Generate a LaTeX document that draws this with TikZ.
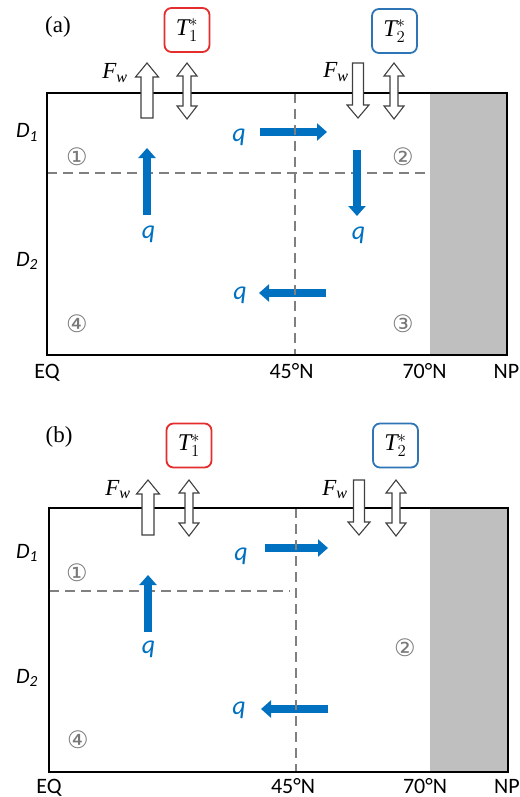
\RequirePackage{fix-cm}
\documentclass[tikz,border=0pt]{standalone}
\usepackage{fontspec}
\setmainfont{Liberation Serif}
\setsansfont{Carlito}
\newfontfamily\circfont{DejaVu Sans}
\usetikzlibrary{arrows.meta}
\definecolor{qblue}{RGB}{0,112,192}
\definecolor{landgray}{RGB}{191,191,191}
\definecolor{dashgray}{RGB}{128,128,128}
\definecolor{numgray}{RGB}{120,120,120}
\definecolor{boxred}{RGB}{228,45,45}
\definecolor{boxblue}{RGB}{46,117,182}
\newcommand\FwUp[3]{% x, tip y, bottom y
  \draw[hollow] ({#1-6},#3) -- ({#1-6},{#2+14}) -- ({#1-11.5},{#2+14}) -- (#1,#2)
    -- ({#1+11.5},{#2+14}) -- ({#1+6},{#2+14}) -- ({#1+6},#3) -- cycle;}
\newcommand\FwDown[3]{% x, top y, tip y
  \draw[hollow] ({#1-5.5},#2) -- ({#1-5.5},{#3-13}) -- ({#1-11},{#3-13}) -- (#1,#3)
    -- ({#1+11},{#3-13}) -- ({#1+5.5},{#3-13}) -- ({#1+5.5},#2) -- cycle;}
\newcommand\TwoWay[3]{% x, top tip, bottom tip
  \draw[hollow] ({#1-4},{#2+13}) -- ({#1-10},{#2+13}) -- (#1,#2) -- ({#1+10},{#2+13})
    -- ({#1+4},{#2+13}) -- ({#1+4},{#3-13}) -- ({#1+10},{#3-13}) -- (#1,#3)
    -- ({#1-10},{#3-13}) -- ({#1-4},{#3-13}) -- cycle;}
\begin{document}
\begin{tikzpicture}[x=1pt,y=-1pt,
  frame/.style={draw=black, line width=2pt},
  land/.style={fill=landgray, draw=none},
  divider/.style={draw=dashgray, line width=2.6pt, dash pattern=on 10pt off 6pt},
  hollow/.style={draw=black!75, fill=white, line width=1.1pt, line join=miter},
  qarrow/.style={draw=qblue, line width=8.5pt, -{Triangle[length=10pt,width=17pt]}},
  qlab/.style={text=qblue, font=\sffamily\itshape\fontsize{26}{26}\selectfont, inner sep=0pt},
  axlab/.style={font=\sffamily\fontsize{22}{22}\selectfont, inner sep=0pt, anchor=base},
  dlab/.style={font=\sffamily\itshape\fontsize{22}{22}\selectfont, inner sep=0pt, anchor=base},
  region/.style={text=numgray, font=\circfont\fontsize{24}{24}\selectfont, inner sep=0pt},
  panel/.style={font=\fontsize{23}{23}\selectfont, inner sep=0pt},
  fwlab/.style={font=\fontsize{23}{23}\selectfont, inner sep=0pt, anchor=base},
  tbox/.style={rounded corners=7pt, line width=1.8pt, minimum width=45pt, minimum height=44pt,
    fill=white, font=\fontsize{24}{24}\selectfont, inner sep=0pt},
]
\useasboundingbox (0,0) rectangle (519,797);

% ---------------- panel (a) ----------------
\fill[land] (430,93) rectangle (507,355);
\draw[divider] (47,173) -- (430,173);
\coordinate (a1s) at (147,215); \coordinate (a1e) at (147,148);
\coordinate (a2s) at (260,132); \coordinate (a2e) at (327,132);
\coordinate (a3s) at (357,150); \coordinate (a3e) at (357,216);
\coordinate (a4s) at (326,293); \coordinate (a4e) at (259,293);
\draw[qarrow] (a1s) -- (a1e);
\draw[qarrow] (a2s) -- (a2e);
\draw[qarrow] (a3s) -- (a3e);
\draw[qarrow] (a4s) -- (a4e);
\draw[divider] (295,93) -- (295,355);
\draw[frame] (47,93) rectangle (507,355);
\FwUp{147}{63}{118}
\TwoWay{187}{63}{119}
\FwDown{358}{63}{118}
\TwoWay{394}{63}{119}
\node[panel] (pa) at (58,27) {(a)};
\node[tbox, draw=boxred] (t1a) at (187,30) {$\mathit{T}_1^*$};
\node[tbox, draw=boxblue] (t2a) at (394.5,31) {$\mathit{T}_2^*$};
\node[fwlab] (fwa1) at (115,79) {$\mathit{F}_{\mathit{w}}$};
\node[fwlab] (fwa2) at (336,78) {$\mathit{F}_{\mathit{w}}$};
\node[dlab] (d1a) at (27,138) {D\textsubscript{1}};
\node[dlab] (d2a) at (27,266) {D\textsubscript{2}};
\node[region] (r1a) at (77,157) {①};
\node[region] (r2a) at (403,157) {②};
\node[region] (r3a) at (403,324) {③};
\node[region] (r4a) at (77,324) {④};
\node[qlab] (qa1) at (148.5,234) {q};
\node[qlab] (qa2) at (239,137) {q};
\node[qlab] (qa3) at (358.5,235) {q};
\node[qlab] (qa4) at (240,295) {q};
\node[axlab] (eqa) at (47,378) {EQ};
\node[axlab] (m45a) at (291.5,378) {45°N};
\node[axlab] (m70a) at (424.5,378) {70°N};
\node[axlab] (npa) at (506.5,378) {NP};

% ---------------- panel (b) ----------------
\begin{scope}[shift={(0,415)}]
\fill[land] (430,93) rectangle (508,357);
\draw[divider] (49,176) -- (290,176);
\coordinate (b1s) at (148,217); \coordinate (b1e) at (148,160);
\coordinate (b2s) at (265,133); \coordinate (b2e) at (328,133);
\coordinate (b4s) at (328,294); \coordinate (b4e) at (261,294);
\draw[qarrow] (b1s) -- (b1e);
\draw[qarrow] (b2s) -- (b2e);
\draw[qarrow] (b4s) -- (b4e);
\draw[divider] (296,93) -- (296,357);
\draw[frame] (49,93) rectangle (508,357);
\FwUp{148}{65}{120}
\TwoWay{189}{65}{121}
\FwDown{359}{65}{120}
\TwoWay{396}{65}{121}
\node[panel] (pb) at (59,22) {(b)};
\node[tbox, draw=boxred] (t1b) at (189,30.5) {$\mathit{T}_1^*$};
\node[tbox, draw=boxblue] (t2b) at (395.5,30.5) {$\mathit{T}_2^*$};
\node[fwlab] (fwb1) at (118,80) {$\mathit{F}_{\mathit{w}}$};
\node[fwlab] (fwb2) at (335,80) {$\mathit{F}_{\mathit{w}}$};
\node[dlab] (d1b) at (27,143) {D\textsubscript{1}};
\node[dlab] (d2b) at (27,268) {D\textsubscript{2}};
\node[region] (r1b) at (77,158) {①};
\node[region] (r2b) at (405,233) {②};
\node[region] (r4b) at (78,325) {④};
\node[qlab] (qb1) at (148.5,234) {q};
\node[qlab] (qb2) at (241,141) {q};
\node[qlab] (qb4) at (239,295) {q};
\node[axlab] (eqb) at (49,378) {EQ};
\node[axlab] (m45b) at (293,378) {45°N};
\node[axlab] (m70b) at (425,378) {70°N};
\node[axlab] (npb) at (507,378) {NP};
\end{scope}
\end{tikzpicture}
\end{document}
